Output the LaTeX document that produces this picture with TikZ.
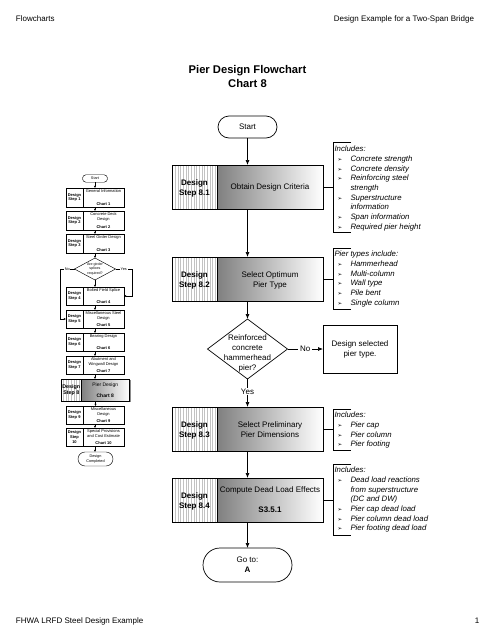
\documentclass[tikz,border=0pt]{standalone}
\usepackage{fontspec}
\setmainfont{Liberation Sans}
\newfontfamily\symfont{DejaVu Sans}
\usetikzlibrary{arrows.meta,shapes.geometric,fit,calc}
\newcommand{\nbul}{\makebox[16pt][l]{\hspace*{3pt}{\symfont\fontsize{5.5}{5.5}\selectfont ➢}}}
\newcommand{\ncont}{\hspace*{16pt}}
\newcommand{\splitfill}[5]{%
  \fill[black!24] (#1,#2) rectangle (#3,#5);
  \draw[white,line width=0.45pt,step=1.6] (#1,#2) grid (#3,#5);
  \shade[left color=black!50,right color=white] (#3,#2) rectangle (#4,#5);}
\newcommand{\minibox}[6]{%
  \fill[black!45] (67,#2+1) rectangle (125,#3+1);
  \fill[white] (66,#2) rectangle (124,#3);
  \draw[mln] (83,#2) -- (83,#3);
  \node[fit={(66,#2) (124,#3)},draw,mln] (#1) {};
  \node[minilab] (#1l) at (74.5,{(#2+#3)/2}) {#4};
  \node[minitxt,anchor=north] (#1t) at (103.5,#2+1.3) {#5};
  \node[minichart,anchor=south] (#1c) at (103.5,#3-1.3) {#6};}
\begin{document}
\begin{tikzpicture}[x=1pt,y=-1pt,
  every node/.style={inner sep=0pt,outer sep=0pt},
  hfont/.style={font=\fontsize{8}{9.6}\selectfont},
  titlefont/.style={font=\fontsize{11.2}{14}\selectfont\bfseries,align=center},
  boxfont/.style={font=\fontsize{8}{10}\selectfont,align=center},
  stepfont/.style={font=\fontsize{8}{10}\selectfont\bfseries,align=center},
  notefont/.style={font=\fontsize{7.8}{9.7}\selectfont\itshape,align=left,anchor=north west},
  ln/.style={line width=0.7pt},
  arr/.style={ln,-{Latex[length=5pt,width=4pt]}},
  mln/.style={line width=0.45pt},
  marr/.style={mln,-{Latex[length=2.2pt,width=2.2pt]}},
  minilab/.style={font=\fontsize{4}{4.8}\selectfont\bfseries,align=center},
  minitxt/.style={font=\fontsize{4}{4.8}\selectfont,align=center},
  minichart/.style={font=\fontsize{4}{4.8}\selectfont\bfseries},
  lbl/.style={fill=white,inner xsep=2pt,inner ysep=1pt},
  mlbl/.style={fill=white,inner xsep=0.8pt,inner ysep=0.5pt,font=\fontsize{3.8}{4}\selectfont},
]
\useasboundingbox (0,0) rectangle (495,640);
\fill[white] (0,0) rectangle (495,640);

% header / footer / title
\node[hfont,anchor=west] (hl) at (16,19) {Flowcharts};
\node[hfont,anchor=east] (hr) at (474,19) {Design Example for a Two-Span Bridge};
\node[titlefont] (title) at (247.5,76) {Pier Design Flowchart\\Chart 8};
\node[hfont,anchor=west] (fl) at (16,621) {FHWA LRFD Steel Design Example};
\node[hfont] (fr) at (477,621) {1};

% ---------------- mini flowchart ----------------
\node[draw,mln,rounded corners=3.5pt,minimum width=25pt,minimum height=7.5pt,fill=white,font=\fontsize{3.8}{4}\selectfont] (mstart) at (95,178.5) {Start};
\minibox{m1}{188}{207}{Design\\Step 1}{General Information}{Chart 1}
\minibox{m2}{211}{230}{Design\\Step 2}{Concrete Deck\\Design}{Chart 2}
\minibox{m3}{234}{253}{Design\\Step 3}{Steel Girder Design}{Chart 3}
\node[diamond,draw,mln,fill=white,minimum width=41pt,minimum height=22pt] (md) at (95,269) {};
\node[font=\fontsize{3.6}{4.3}\selectfont,align=center] (mdt) at (95,269) {Are girder\\splices\\required?};
\minibox{m4}{287}{305}{Design\\Step 4}{Bolted Field Splice}{Chart 4}
\minibox{m5}{310}{328}{Design\\Step 5}{Miscellaneous Steel\\Design}{Chart 5}
\minibox{m6}{333}{351}{Design\\Step 6}{Bearing Design}{Chart 6}
\minibox{m7}{356}{374}{Design\\Step 7}{Abutment and\\Wingwall Design}{Chart 7}
% highlighted step 8
\fill[black!45] (62.5,380) rectangle (130.5,402);
\splitfill{61.5}{379}{81}{129.5}{401}
\node[fit={(61.5,379) (129.5,401)},draw,mln] (m8) {};
\draw[mln] (81,379) -- (81,401);
\node[font=\fontsize{5.3}{6.4}\selectfont\bfseries,align=center] (m8l) at (71.25,390) {Design\\Step 8};
\node[font=\fontsize{5}{6.4}\selectfont,align=center] (m8t) at (105.25,385.5) {Pier Design};
\node[font=\fontsize{5}{6.4}\selectfont\bfseries] (m8c) at (105.25,396) {Chart 8};
\minibox{m9}{406}{424}{Design\\Step 9}{Miscellaneous\\Design}{Chart 9}
\minibox{m10}{428}{446}{Design\\Step\\10}{Special Provisions\\and Cost Estimate}{Chart 10}
\node[draw,mln,rounded corners=7pt,minimum width=35pt,minimum height=14pt,fill=white,font=\fontsize{3.8}{4.6}\selectfont,align=center] (mend) at (95.5,459) {Design\\Completed};

\draw[marr] (mstart.south) -- (mstart.south |- m1.north);
\draw[marr] (m1.south) -- (m1.south |- m2.north);
\draw[marr] (m2.south) -- (m2.south |- m3.north);
\draw[marr] (m3.south) -- (m3.south |- md.north);
\draw[marr] (md.south) -- (md.south |- m4.north);
\draw[marr] (m4.south) -- (m4.south |- m5.north);
\draw[marr] (m5.south) -- (m5.south |- m6.north);
\draw[marr] (m6.south) -- (m6.south |- m7.north);
\draw[marr] (m7.south) -- (m7.south |- m8.north);
\draw[marr] (m8.south) -- (m8.south |- m9.north);
\draw[marr] (m9.south) -- (m9.south |- m10.north);
\draw[marr] (m10.south) -- (m10.south |- mend.north);
\coordinate (mno) at (60,269);
\coordinate (myes) at (132,269);
\draw[marr] (md.west) -- node[mlbl] (mnol) {No} (mno) |- (m5.west);
\draw[marr] (md.east) -- node[mlbl] (myesl) {Yes} (myes) |- (m4.east);

% ---------------- main flowchart ----------------
\node[draw,ln,rounded corners=11pt,minimum width=59pt,minimum height=22pt,boxfont] (start) at (247.5,127) {Start};

% step 8.1
\splitfill{172}{165}{217}{323}{209}
\node[fit={(172,165) (323,209)},draw,ln] (s81) {};
\draw[ln] (217,165) -- (217,209);
\node[stepfont] (s81l) at (194.5,188) {Design\\Step 8.1};
\node[boxfont] (s81t) at (270,187) {Obtain Design Criteria};

% step 8.2
\splitfill{172}{257}{217}{323}{301}
\node[fit={(172,257) (323,301)},draw,ln] (s82) {};
\draw[ln] (217,257) -- (217,301);
\node[stepfont] (s82l) at (194.5,280) {Design\\Step 8.2};
\node[boxfont] (s82t) at (270,280) {Select Optimum\\Pier Type};

% decision
\node[diamond,draw,ln,minimum width=80pt,minimum height=60pt] (dia) at (247.5,349) {};
\node[boxfont] (diat) at (247.5,353) {Reinforced\\concrete\\hammerhead\\pier?};
\node[draw,ln,minimum width=74pt,minimum height=48pt,boxfont] (sel) at (360,349) {Design selected\\pier type.};

% step 8.3
\splitfill{172}{407}{217}{323}{451}
\node[fit={(172,407) (323,451)},draw,ln] (s83) {};
\draw[ln] (217,407) -- (217,451);
\node[stepfont] (s83l) at (194.5,430) {Design\\Step 8.3};
\node[boxfont] (s83t) at (270,430) {Select Preliminary\\Pier Dimensions};

% step 8.4
\splitfill{172}{478}{217}{323}{522}
\node[fit={(172,478) (323,522)},draw,ln] (s84) {};
\draw[ln] (217,478) -- (217,522);
\node[stepfont] (s84l) at (194.5,501) {Design\\Step 8.4};
\node[boxfont] (s84t) at (270,490) {Compute Dead Load Effects};
\node[stepfont] (s84c) at (270,510) {S3.5.1};

\node[draw,ln,rounded corners=17pt,minimum width=89pt,minimum height=34pt,boxfont] (goto) at (247.5,565) {Go to:\\\textbf{A}};

\draw[arr] (start) -- (s81);
\draw[arr] (s81) -- (s82);
\draw[arr] (s82) -- (dia);
\draw[arr] (dia.east) -- node[lbl,boxfont] (nol) {No} (dia.east -| sel.west);
\draw[arr] (dia) -- node[lbl,boxfont,pos=0.45] (yesl) {Yes} (s83);
\draw[arr] (s83) -- (s84);
\draw[arr] (s84) -- (goto);

% ---------------- notes ----------------
\node[fit={(333,142) (351,232)}] (n1) {};
\draw[ln] (n1.north east) -- (n1.north west) -- (n1.south west) -- (n1.south east);
\node[notefont] (n1t) at (334.5,146.1) {Includes:\\
\nbul Concrete strength\\
\nbul Concrete density\\
\nbul Reinforcing steel\\
\ncont strength\\
\nbul Superstructure\\
\ncont information\\
\nbul Span information\\
\nbul Required pier height};
\draw[ln] (s81.east) -- (s81.east -| n1.west);

\node[fit={(333,248) (351,309)}] (n2) {};
\draw[ln] (n2.north east) -- (n2.north west) -- (n2.south west) -- (n2.south east);
\node[notefont] (n2t) at (334.5,251.1) {Pier types include:\\
\nbul Hammerhead\\
\nbul Multi-column\\
\nbul Wall type\\
\nbul Pile bent\\
\nbul Single column};
\draw[ln] (s82.east) -- (s82.east -| n2.west);

\node[fit={(333,409) (351,450)}] (n3) {};
\draw[ln] (n3.north east) -- (n3.north west) -- (n3.south west) -- (n3.south east);
\node[notefont] (n3t) at (334.5,412.1) {Includes:\\
\nbul Pier cap\\
\nbul Pier column\\
\nbul Pier footing};
\draw[ln] (s83.east) -- (s83.east -| n3.west);

\node[fit={(333,464) (351,535)}] (n4) {};
\draw[ln] (n4.north east) -- (n4.north west) -- (n4.south west) -- (n4.south east);
\node[notefont] (n4t) at (334.5,467.1) {Includes:\\
\nbul Dead load reactions\\
\ncont from superstructure\\
\ncont (DC and DW)\\
\nbul Pier cap dead load\\
\nbul Pier column dead load\\
\nbul Pier footing dead load};
\draw[ln] (s84.east) -- (s84.east -| n4.west);
\end{tikzpicture}
\end{document}
